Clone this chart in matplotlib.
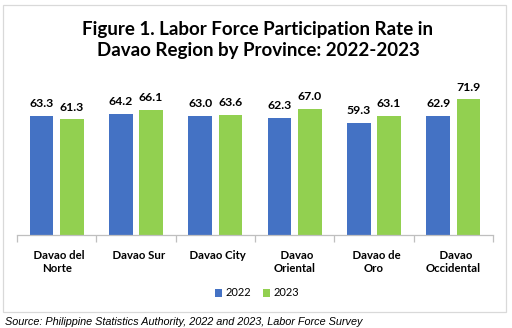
import matplotlib
matplotlib.use("Agg")
import matplotlib.pyplot as plt
from matplotlib.patches import Rectangle
import numpy as np

provinces = ["  Davao del\nNorte", "  Davao Sur", "  Davao City", "  Davao\nOriental",
             "  Davao de\nOro", "  Davao\nOccidental"]
years = ["2022", "2023"]
lfpr_2022 = [63.3, 64.2, 63.0, 62.3, 59.3, 62.9]
lfpr_2023 = [61.3, 66.1, 63.6, 67.0, 63.1, 71.9]

BLUE = "#4472C4"
GREEN = "#92D050"
FONT = "Lato"

W, H = 512, 328
fig = plt.figure(figsize=(W / 100, H / 100), dpi=100)

# light outer frame of the chart area
fig.patches.append(Rectangle((3 / W, 1 - 312 / H), 503 / W, 307 / H,
                             transform=fig.transFigure, fill=False,
                             edgecolor="#D9D9D9", linewidth=0.9))

ax_left, ax_right, ax_base, ymax = 17, 493, 235, 80
px_per_unit = 1.885
ax_h = ymax * px_per_unit
ax = fig.add_axes([ax_left / W, 1 - ax_base / H, (ax_right - ax_left) / W, ax_h / H])

x = np.arange(len(provinces))
bw = 0.30
off = 0.19
b1 = ax.bar(x - off, lfpr_2022, bw, color=BLUE, label=years[0])
b2 = ax.bar(x + off, lfpr_2023, bw, color=GREEN, label=years[1])

for bars, vals in ((b1, lfpr_2022), (b2, lfpr_2023)):
    for r, v in zip(bars, vals):
        ax.annotate(f"{v:.1f}", (r.get_x() + r.get_width() / 2, v),
                    xytext=(0, 5), textcoords="offset points",
                    ha="center", va="bottom", fontsize=8.8,
                    fontweight="bold", family=FONT, color="#000000")

ax.set_xlim(-0.5, len(provinces) - 0.5)
ax.set_ylim(0, ymax)
for s in ("top", "right", "left"):
    ax.spines[s].set_visible(False)
ax.spines["bottom"].set_color("#BFBFBF")
ax.spines["bottom"].set_linewidth(0.9)
ax.set_yticks([])

# category boundary tick marks
ax.set_xticks(np.arange(-0.5, len(provinces)), minor=False)
ax.set_xticklabels([])
ax.tick_params(axis="x", which="major", length=5, color="#BFBFBF", width=0.9)
ax.set_xticks(x, minor=True)
ax.set_xticklabels(provinces, minor=True, fontsize=8.2, fontweight="bold",
                   family=FONT, linespacing=1.2, va="top")
ax.tick_params(axis="x", which="minor", length=0, pad=11)
ax.patch.set_alpha(0)

fig.text(258 / W, 1 - 40 / H,
         "Figure 1. Labor Force Participation Rate in\nDavao Region by Province: 2022-2023",
         ha="center", va="center", fontsize=13.5, fontweight="bold",
         family=FONT, linespacing=1.3)

leg = fig.legend(handles=[b1, b2], labels=years, loc="center",
                 bbox_to_anchor=(257 / W, 1 - 293 / H), ncol=2, frameon=False,
                 prop={"family": FONT, "size": 8}, handlelength=0.7,
                 handleheight=0.7, handletextpad=0.3, columnspacing=1.0)

fig.text(5 / W, 1 - 322 / H,
         "Source: Philippine Statistics Authority, 2022 and 2023, Labor Force Survey",
         ha="left", va="center", fontsize=7.8, style="italic",
         family="Liberation Sans")

fig.savefig("out.png", dpi=100, facecolor="white")
